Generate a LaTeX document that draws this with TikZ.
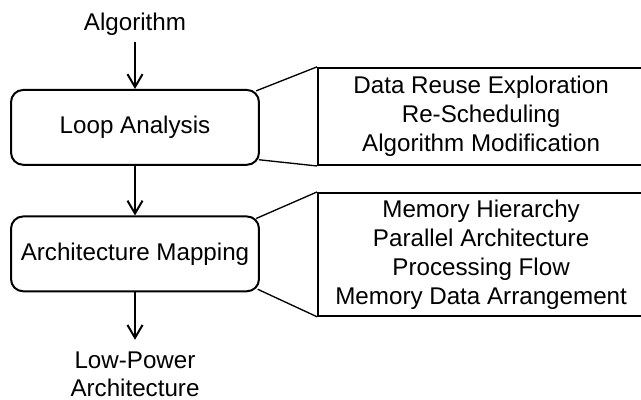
\documentclass[tikz,border=0pt]{standalone}
\usepackage{fontspec}
\setmainfont{Liberation Sans}
\usetikzlibrary{arrows.meta,calc}
\tikzset{
  base/.style={font=\fontsize{18.2}{21.8}\selectfont, align=center, inner sep=0pt},
  stage/.style={base, rectangle, rounded corners=0.32cm, draw, line width=1.5pt, minimum width=6.56cm, minimum height=1.98cm},
  detail/.style={base, rectangle, draw, line width=1.5pt, minimum width=8.63cm},
  arr/.style={-{Straight Barb[length=3.4mm,width=4mm]}, line width=1.5pt},
  link/.style={line width=1pt},
}

\begin{document}
\begin{tikzpicture}
  \useasboundingbox (0,0) rectangle (16.96,10.58);
  \node[base,anchor=base] (algo) at (3.572,9.76) {Algorithm};
  \node[stage] (loop) at (3.572,7.21) {Loop Analysis};
  \node[stage] (arch) at (3.572,3.863) {Architecture Mapping};
  \node[base,anchor=north,font=\fontsize{18.2}{20.5}\selectfont] (out) at (3.572,1.27) {Low-Power\\Architecture};
  \draw[arr,shorten <=0.16cm] (algo.south) -- (loop.north);
  \draw[arr] (loop.south) -- (arch.north);
  \draw[arr,shorten >=0.32cm] (arch.south) -- (out.north);
  % detail boxes, right side runs off the page
  \node[detail,minimum height=2.57cm] (loopd) at (12.73,7.50) {Data Reuse Exploration\\Re-Scheduling\\Algorithm Modification};
  \node[detail,minimum height=3.25cm] (archd) at (12.73,3.85) {Memory Hierarchy\\Parallel Architecture\\Processing Flow\\Memory Data Arrangement};
  \draw[link] ($(loop.north east)+(-0.1,-0.05)$) -- (loopd.north west);
  \draw[link] ($(loop.south east)+(-0.03,0.16)$) -- (loopd.south west);
  \draw[link] ($(arch.north east)+(-0.1,-0.08)$) -- (archd.north west);
  \draw[link] ($(arch.south east)+(-0.06,0.08)$) -- (archd.south west);
\end{tikzpicture}
\end{document}
